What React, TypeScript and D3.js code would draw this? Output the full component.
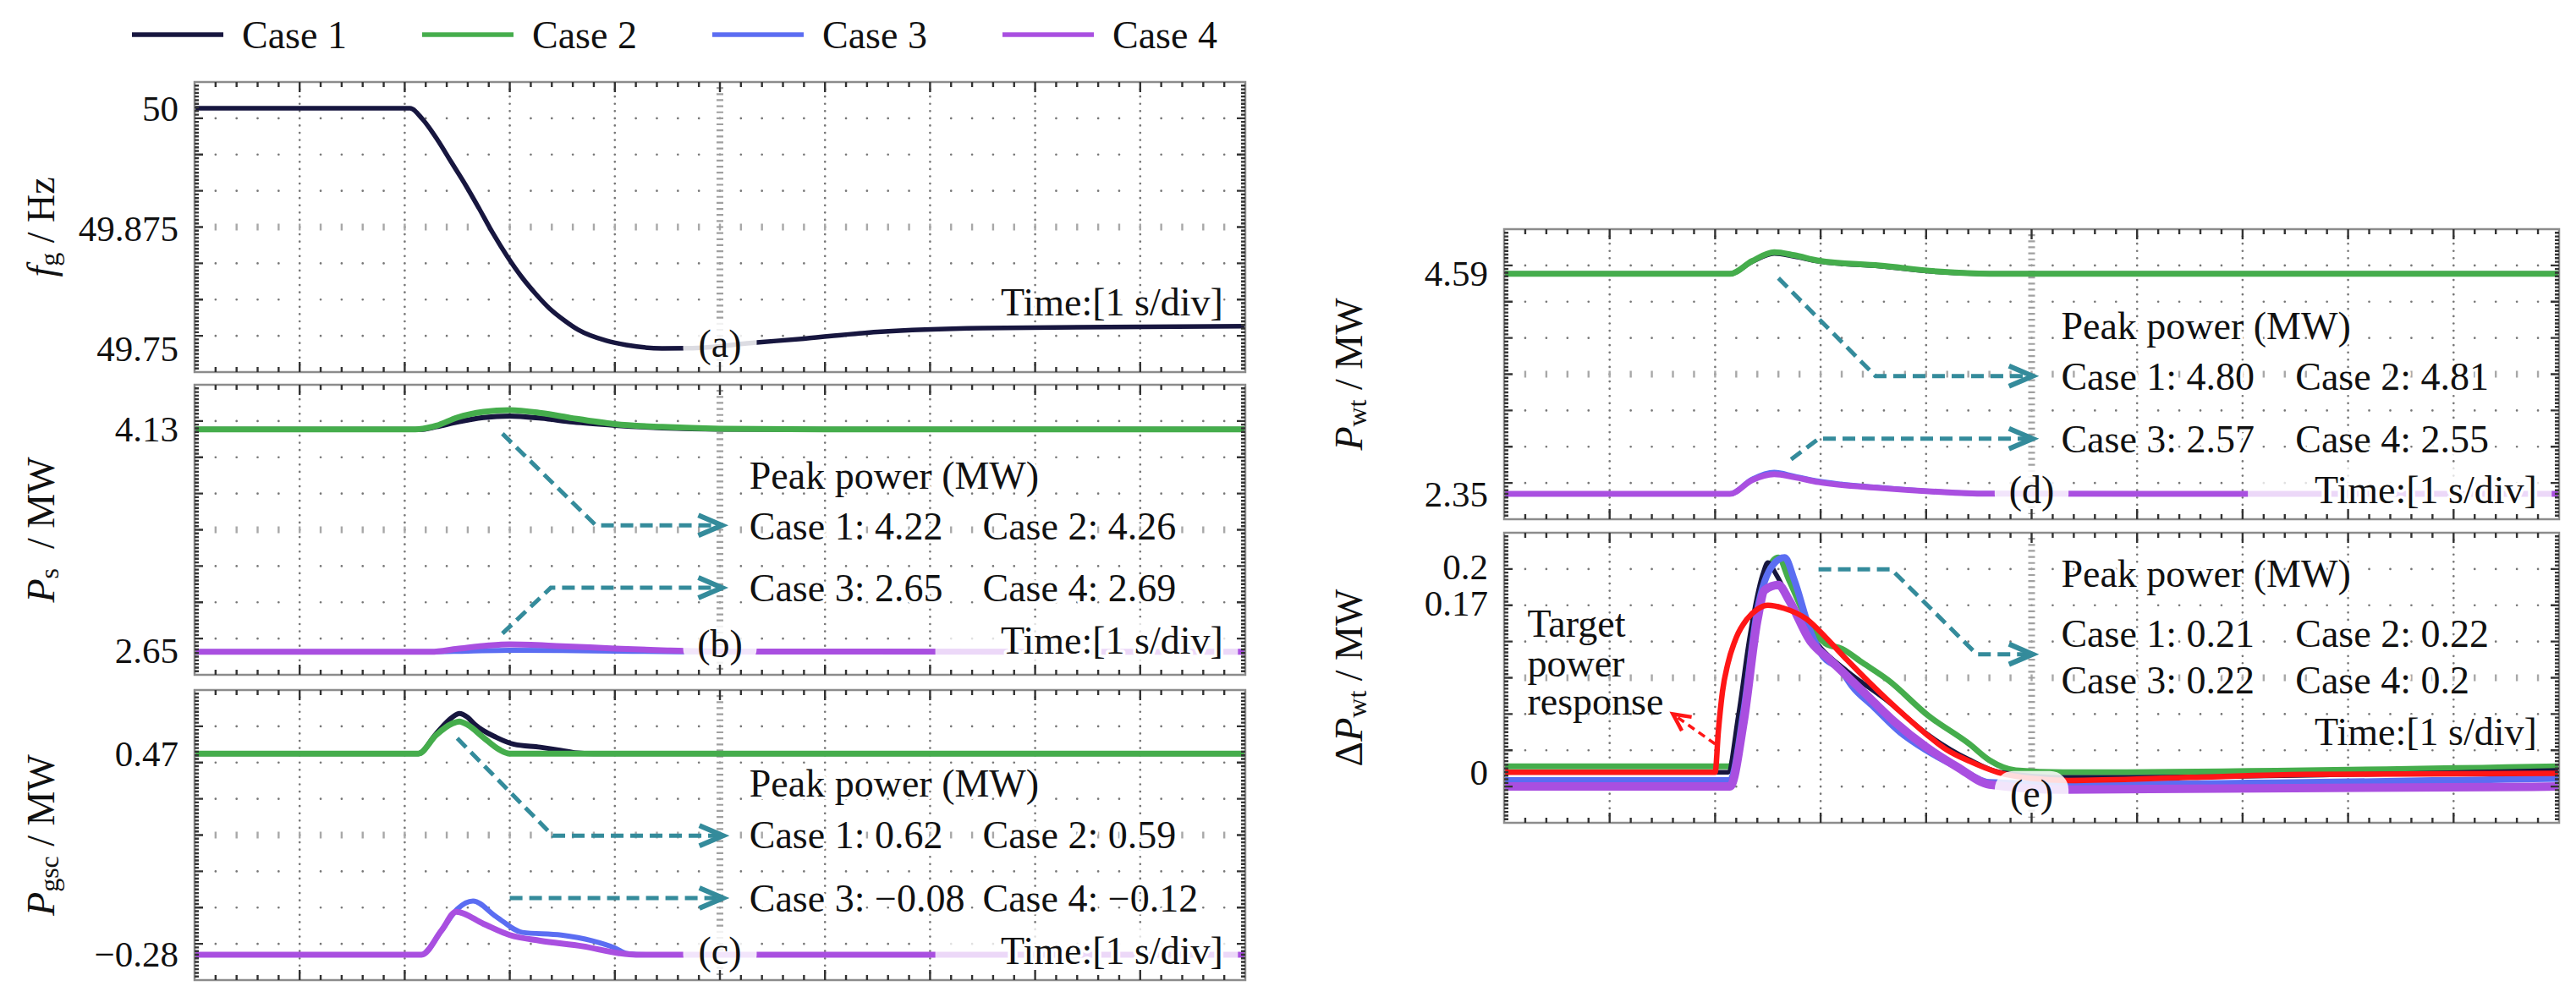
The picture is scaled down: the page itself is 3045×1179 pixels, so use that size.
import React from 'react';
import * as d3 from 'd3';

type Pt = [number, number];

const FONT = "'Liberation Serif', 'DejaVu Serif', 'Times New Roman', serif";

// legend
const caseNames = ['Case 1', 'Case 2', 'Case 3', 'Case 4'];
const caseColors = ['#17163f', '#45ad4c', '#5b6df2', '#a94fe0'];
const targetColor = '#ff1616';
const arrowColor = '#348b9b';

// time axis, 10 div at 1 s/div
const timeDomain: Pt = [0, 10];

// (a) grid frequency, Hz
const fgCase1: Pt[] = [
  [0, 50.0], [2.05, 50.0], [2.17, 49.9886], [2.31, 49.9675], [2.44, 49.9447], [2.58, 49.9202],
  [2.71, 49.8956], [2.84, 49.8702], [2.98, 49.8456], [3.11, 49.8254], [3.25, 49.807], [3.38, 49.7921],
  [3.52, 49.7798], [3.65, 49.7702], [3.92, 49.7588], [4.11, 49.7544], [4.45, 49.7509], [4.7, 49.751],
  [5.35, 49.757], [5.8, 49.761], [6.5, 49.768], [7.5, 49.772], [10, 49.774],
];
const fgTicks = [50, 49.875, 49.75];
const fgTickLabels = ['50', '49.875', '49.75'];

// (b) stator power Ps, MW
const psCase1: Pt[] = [
  [0, 4.13], [2.15, 4.13], [2.3, 4.148], [2.5, 4.18], [2.75, 4.21], [3.0, 4.22], [3.3, 4.205],
  [3.6, 4.18], [4.0, 4.158], [4.45, 4.141], [5.0, 4.132], [6, 4.13], [10, 4.13],
];
const psCase2: Pt[] = [
  [0, 4.13], [2.1, 4.13], [2.3, 4.155], [2.5, 4.21], [2.75, 4.248], [3.0, 4.26], [3.3, 4.24],
  [3.6, 4.205], [4.0, 4.166], [4.45, 4.147], [5.0, 4.135], [6, 4.13], [10, 4.13],
];
const psCase3: Pt[] = [
  [0, 2.64], [2.2, 2.64], [2.6, 2.645], [3.0, 2.65], [3.5, 2.649], [4.0, 2.645], [4.6, 2.641], [10, 2.64],
];
const psCase4: Pt[] = [
  [0, 2.64], [2.25, 2.64], [2.5, 2.66], [2.8, 2.683], [3.0, 2.69], [3.5, 2.678], [4.0, 2.662],
  [4.5, 2.649], [5.0, 2.642], [10, 2.64],
];
const psTicks = [4.13, 2.65];
const psTickLabels = ['4.13', '2.65'];
const psPeaks = ['Case 1: 4.22', 'Case 2: 4.26', 'Case 3: 2.65', 'Case 4: 2.69'];

// (c) grid-side converter power Pgsc, MW
const pgCase1: Pt[] = [
  [0, 0.47], [2.13, 0.47], [2.3, 0.545], [2.45, 0.605], [2.52, 0.62], [2.6, 0.605], [2.67, 0.578],
  [2.87, 0.531], [3.04, 0.505], [3.29, 0.494], [3.49, 0.482], [3.62, 0.473], [3.8, 0.47], [10, 0.47],
];
const pgCase2: Pt[] = [
  [0, 0.47], [2.13, 0.47], [2.3, 0.54], [2.45, 0.582], [2.52, 0.59], [2.6, 0.577], [2.75, 0.53],
  [2.9, 0.485], [3.0, 0.47], [10, 0.47],
];
const pgCase3: Pt[] = [
  [0, -0.28], [2.16, -0.28], [2.35, -0.19], [2.5, -0.11], [2.65, -0.08], [2.87, -0.138], [3.12, -0.197],
  [3.49, -0.207], [3.78, -0.228], [4.0, -0.255], [4.12, -0.276], [4.3, -0.28], [10, -0.28],
];
const pgCase4: Pt[] = [
  [0, -0.28], [2.16, -0.28], [2.35, -0.19], [2.49, -0.12], [2.75, -0.165], [3.0, -0.207], [3.29, -0.228],
  [3.7, -0.249], [4.03, -0.274], [4.2, -0.28], [10, -0.28],
];
const pgTicks = [0.47, -0.28];
const pgTickLabels = ['0.47', '\u22120.28'];
const pgPeaks = ['Case 1: 0.62', 'Case 2: 0.59', 'Case 3: \u22120.08', 'Case 4: \u22120.12'];

// (d) wind turbine power Pwt, MW
const pwCase1: Pt[] = [
  [0, 4.59], [2.14, 4.59], [2.35, 4.715], [2.56, 4.8], [2.75, 4.77], [2.98, 4.72], [3.56, 4.67],
  [4.14, 4.61], [4.6, 4.592], [10, 4.59],
];
const pwCase2: Pt[] = [
  [0, 4.59], [2.14, 4.59], [2.35, 4.72], [2.56, 4.81], [2.75, 4.78], [2.98, 4.725], [3.56, 4.675],
  [4.14, 4.612], [4.6, 4.592], [10, 4.59],
];
const pwCase3: Pt[] = [
  [0, 2.35], [2.14, 2.35], [2.35, 2.5], [2.56, 2.57], [2.75, 2.53], [2.98, 2.48], [3.56, 2.415],
  [4.14, 2.37], [4.6, 2.352], [10, 2.35],
];
const pwCase4: Pt[] = [
  [0, 2.35], [2.14, 2.35], [2.35, 2.49], [2.56, 2.55], [2.75, 2.52], [2.98, 2.47], [3.56, 2.41],
  [4.14, 2.37], [4.6, 2.352], [10, 2.35],
];
const pwTicks = [4.59, 2.35];
const pwTickLabels = ['4.59', '2.35'];
const pwPeaks = ['Case 1: 4.80', 'Case 2: 4.81', 'Case 3: 2.57', 'Case 4: 2.55'];

// (e) incremental power dPwt, MW
const dpTarget: Pt[] = [
  [0, 0], [2.0, 0], [2.03, 0.04], [2.07, 0.08], [2.12, 0.107], [2.2, 0.133], [2.3, 0.151], [2.4, 0.161],
  [2.5, 0.165], [2.65, 0.162], [2.87, 0.151], [3.05, 0.133], [3.25, 0.111], [3.45, 0.09], [3.64, 0.071],
  [3.83, 0.053], [4.02, 0.036], [4.2, 0.022], [4.41, 0.011], [4.68, 0.0], [5.0, -0.006], [5.35, -0.008],
  [6.5, -0.005], [7.6, -0.002], [10, -0.001],
];
const dpCase1: Pt[] = [
  [0, 0], [2.12, 0], [2.22, 0.056], [2.33, 0.135], [2.45, 0.195], [2.5, 0.207], [2.58, 0.195],
  [2.75, 0.16], [3.0, 0.123], [3.25, 0.1], [3.64, 0.07], [4.02, 0.037], [4.4, 0.013], [4.7, 0.0],
  [5.3, -0.005], [10, 0.002],
];
const dpCase2: Pt[] = [
  [0, 0.006], [2.14, 0.006], [2.25, 0.06], [2.38, 0.15], [2.5, 0.2], [2.6, 0.212], [2.7, 0.19],
  [2.9, 0.145], [3.05, 0.127], [3.2, 0.122], [3.4, 0.108], [3.64, 0.091], [4.02, 0.056], [4.41, 0.028],
  [4.6, 0.012], [4.85, 0.002], [5.3, 0.0], [10, 0.006],
];
const dpCase3: Pt[] = [
  [0, -0.008], [2.14, -0.008], [2.27, 0.06], [2.4, 0.16], [2.55, 0.205], [2.66, 0.212], [2.75, 0.19],
  [2.9, 0.14], [3.0, 0.118], [3.2, 0.1], [3.3, 0.085], [3.5, 0.065], [3.75, 0.04], [4.0, 0.022],
  [4.3, 0.005], [4.6, -0.01], [5.3, -0.012], [10, -0.006],
];
const dpCase4: Pt[] = [
  [0, -0.014], [2.14, -0.014], [2.27, 0.05], [2.4, 0.15], [2.47, 0.18], [2.6, 0.185], [2.7, 0.17],
  [2.9, 0.13], [3.1, 0.11], [3.4, 0.08], [3.7, 0.05], [4.0, 0.025], [4.3, 0.005], [4.6, -0.012],
  [5.3, -0.017], [10, -0.014],
];
const dpTicks = [0.2, 0.17, 0];
const dpTickLabels = ['0.2', '0.17', '0'];
const dpPeaks = ['Case 1: 0.21', 'Case 2: 0.22', 'Case 3: 0.22', 'Case 4: 0.2'];
const targetLabel = ['Target', 'power', 'response'];

type TitlePart = { t: string; it?: boolean; sub?: boolean };

interface Series { data: Pt[]; color: string; width: number }

interface PanelDef {
  id: string;
  left: number; top: number; width: number; height: number;
  domain: Pt;
  ticks: number[]; tickLabels: string[];
  title: TitlePart[]; titleX: number;
  series: Series[];
  tag: string; tagDiv: number;
  timeDiv: number; timeBox: boolean;
  peaks?: string[]; peakRows?: number[];
  callouts?: Pt[][];
}

const W = 3045;
const H = 1179;
const LEFT_X = 230;
const RIGHT_X = 1778;
const PW_L = 1242;
const PW_R = 1247;
const PH = 343;

const panels: PanelDef[] = [
  {
    id: 'a', left: LEFT_X, top: 97, width: PW_L, height: PH, domain: [49.7263, 50.0272],
    ticks: fgTicks, tickLabels: fgTickLabels,
    title: [{ t: 'f', it: true }, { t: 'g', sub: true }, { t: '\u00a0/ Hz' }], titleX: 48,
    series: [{ data: fgCase1, color: caseColors[0], width: 5.5 }],
    tag: '(a)', tagDiv: 7.23, timeDiv: 6.07, timeBox: false,
  },
  {
    id: 'b', left: LEFT_X, top: 455, width: PW_L, height: PH, domain: [2.4862, 4.4294],
    ticks: psTicks, tickLabels: psTickLabels,
    title: [{ t: 'P', it: true }, { t: 's', sub: true }, { t: '\u00a0\u00a0/ MW' }], titleX: 48,
    series: [
      { data: psCase1, color: caseColors[0], width: 6 },
      { data: psCase2, color: caseColors[1], width: 7 },
      { data: psCase3, color: caseColors[2], width: 6 },
      { data: psCase4, color: caseColors[3], width: 7 },
    ],
    tag: '(b)', tagDiv: 7.16, timeDiv: 7.05, timeBox: true,
    peaks: psPeaks, peakRows: [2.51, 3.9, 5.6],
    callouts: [
      [[2.93, 1.35], [3.82, 3.88], [5.02, 3.88]],
      [[2.93, 6.86], [3.39, 5.6], [5.02, 5.6]],
    ],
  },
  {
    id: 'c', left: LEFT_X, top: 816, width: PW_L, height: PH, domain: [-0.3749, 0.7073],
    ticks: pgTicks, tickLabels: pgTickLabels,
    title: [{ t: 'P', it: true }, { t: 'gsc', sub: true }, { t: '\u00a0/ MW' }], titleX: 48,
    series: [
      { data: pgCase1, color: caseColors[0], width: 6 },
      { data: pgCase2, color: caseColors[1], width: 7 },
      { data: pgCase3, color: caseColors[2], width: 6 },
      { data: pgCase4, color: caseColors[3], width: 7 },
    ],
    tag: '(c)', tagDiv: 7.19, timeDiv: 7.2, timeBox: true,
    peaks: pgPeaks, peakRows: [2.57, 4.0, 5.75],
    callouts: [
      [[2.5, 1.33], [3.41, 4.02], [5.03, 4.02]],
      [[3.0, 5.74], [5.03, 5.74]],
    ],
  },
  {
    id: 'd', left: RIGHT_X, top: 271, width: PW_R, height: PH, domain: [2.0925, 5.045],
    ticks: pwTicks, tickLabels: pwTickLabels,
    title: [{ t: 'P', it: true }, { t: 'wt', sub: true }, { t: '\u00a0/ MW' }], titleX: 1594,
    series: [
      { data: pwCase1, color: caseColors[0], width: 6 },
      { data: pwCase2, color: caseColors[1], width: 7 },
      { data: pwCase3, color: caseColors[2], width: 6 },
      { data: pwCase4, color: caseColors[3], width: 7 },
    ],
    tag: '(d)', tagDiv: 7.2, timeDiv: 7.2, timeBox: true,
    peaks: pwPeaks, peakRows: [2.67, 4.07, 5.8],
    callouts: [
      [[2.6, 1.35], [3.52, 4.05], [5.01, 4.05]],
      [[2.72, 6.35], [2.98, 5.78], [5.01, 5.78]],
    ],
  },
  {
    id: 'e', left: RIGHT_X, top: 630, width: PW_R, height: PH, domain: [-0.0498, 0.2365],
    ticks: dpTicks, tickLabels: dpTickLabels,
    title: [{ t: '\u0394' }, { t: 'P', it: true }, { t: 'wt', sub: true }, { t: '\u00a0/ MW' }], titleX: 1594,
    series: [
      { data: dpCase2, color: caseColors[1], width: 7 },
      { data: dpCase1, color: caseColors[0], width: 5.5 },
      { data: dpCase3, color: caseColors[2], width: 8 },
      { data: dpCase4, color: caseColors[3], width: 10 },
      { data: dpTarget, color: targetColor, width: 6.5 },
    ],
    tag: '(e)', tagDiv: 7.2, timeDiv: 5.5, timeBox: false,
    peaks: dpPeaks, peakRows: [1.12, 2.79, 4.07],
    callouts: [
      [[2.98, 1.01], [3.67, 1.01], [4.48, 3.35], [5.01, 3.35]],
    ],
  },
];

const FS = 46;
const TICK_FS = 43;

const Title: React.FC<{ parts: TitlePart[]; x: number; y: number }> = ({ parts, x, y }) => {
  const spans: React.ReactNode[] = [];
  let shifted = false;
  parts.forEach((p, i) => {
    let dy = 0;
    if (p.sub && !shifted) { dy = 10; shifted = true; }
    else if (!p.sub && shifted) { dy = -10; shifted = false; }
    spans.push(
      <tspan key={i} dy={dy || undefined} fontStyle={p.it ? 'italic' : 'normal'} fontSize={p.sub ? 32 : FS}>
        {p.t}
      </tspan>
    );
  });
  return (
    <text x={x} y={y} transform={`rotate(-90, ${x}, ${y})`} textAnchor="middle"
      dominantBaseline="central" fontFamily={FONT} fontSize={FS} fill="#111">
      {spans}
    </text>
  );
};

// dashed leader with an open chevron head
const Arrow: React.FC<{ pts: Pt[]; color: string; width?: number; dash?: string; head?: number; half?: number }> = ({
  pts, color, width = 5, dash = '15 8', head = 28, half = 12,
}) => {
  const n = pts.length;
  const [tx, ty] = pts[n - 1];
  const [px, py] = pts[n - 2];
  const ang = Math.atan2(ty - py, tx - px);
  const wing = (s: number) => [
    tx - head * Math.cos(ang) + s * half * Math.sin(ang),
    ty - head * Math.sin(ang) - s * half * Math.cos(ang),
  ];
  const [ax, ay] = wing(1);
  const [bx, by] = wing(-1);
  const body = d3.line()(pts.slice(0, n - 1).concat([[tx - 6 * Math.cos(ang), ty - 6 * Math.sin(ang)]])) || '';
  return (
    <g>
      <path d={body} fill="none" stroke={color} strokeWidth={width} strokeDasharray={dash} />
      <path d={`M${ax},${ay} L${tx},${ty} L${bx},${by}`} fill="none" stroke={color}
        strokeWidth={width + 1} strokeLinejoin="miter" strokeLinecap="butt" />
    </g>
  );
};

const Panel: React.FC<{ p: PanelDef }> = ({ p }) => {
  const x = d3.scaleLinear().domain(timeDomain).range([p.left, p.left + p.width]);
  const y = d3.scaleLinear().domain(p.domain).range([p.top + p.height, p.top]);
  const yd = d3.scaleLinear().domain([0, 8]).range([p.top, p.top + p.height]);
  const line = d3.line<Pt>().x(d => x(d[0])).y(d => y(d[1])).curve(d3.curveMonotoneX);
  const right = p.left + p.width;
  const bottom = p.top + p.height;

  const xMinor = d3.range(1, 50).map(k => p.left + (k * p.width) / 50);
  const yMinor = d3.range(1, 40).map(k => p.top + (k * p.height) / 40);

  // dotted grid
  let dots = '';
  [1, 2, 3, 4, 6, 7, 8, 9].forEach(i => {
    const gx = x(i);
    yMinor.forEach(gy => { dots += `M${gx},${gy}h0.01`; });
  });
  [1, 2, 3, 5, 6, 7].forEach(j => {
    const gy = yd(j);
    xMinor.forEach(gx => { dots += `M${gx},${gy}h0.01`; });
  });
  // centre cross marks
  let centre = '';
  xMinor.forEach(gx => { centre += `M${gx},${yd(4) - 4}v8`; });
  let centreV = '';
  d3.range(1, 48).forEach(k => {
    const gy = p.top + (k * p.height) / 48;
    centreV += `M${x(5) - 4},${gy}h8`;
  });
  // border ticks
  let ticks = '';
  d3.range(1, 50).forEach(k => {
    const gx = p.left + (k * p.width) / 50;
    const len = k % 5 === 0 ? 12 : 6;
    ticks += `M${gx},${p.top}v${len}M${gx},${bottom}v${-len}`;
  });
  d3.range(1, 80).forEach(k => {
    const gy = p.top + (k * p.height) / 80;
    const len = k % 10 === 0 ? 10 : 5;
    ticks += `M${p.left},${gy}h${len}M${right},${gy}h${-len}`;
  });

  const boxH = 54;
  const halo = { stroke: '#fff', strokeWidth: 7, paintOrder: 'stroke' as const, strokeLinejoin: 'round' as const };
  const col1 = x(5.28);
  const col2 = x(7.5);

  return (
    <g>
      <clipPath id={`clip-${p.id}`}>
        <rect x={p.left} y={p.top} width={p.width} height={p.height} />
      </clipPath>
      <path d={dots} stroke="#777" strokeWidth={2.7} strokeLinecap="round" fill="none" />
      <path d={centre} stroke="#a8a8a8" strokeWidth={2.4} fill="none" />
      <path d={centreV} stroke="#a0a0a0" strokeWidth={2.2} fill="none" />

      {p.callouts && p.callouts.map((c, i) => (
        <Arrow key={i} pts={c.map(q => [x(q[0]), yd(q[1])] as Pt)} color={arrowColor} />
      ))}

      <g clipPath={`url(#clip-${p.id})`}>
        {p.series.map((s, i) => (
          <path key={i} d={line(s.data) || ''} fill="none" stroke={s.color} strokeWidth={s.width}
            strokeLinejoin="round" strokeLinecap="round" />
        ))}
      </g>

      {/* label boxes */}
      <rect x={x(4.65)} y={yd(p.tagDiv) - boxH / 2} width={x(5.35) - x(4.65)} height={boxH} rx={22}
        fill="#fff" fillOpacity={0.85} />
      {p.timeBox && (
        <rect x={x(7.05)} y={yd(p.timeDiv) - boxH / 2} width={x(9.93) - x(7.05)} height={boxH}
          fill="#fff" fillOpacity={0.78} />
      )}

      <g fontFamily={FONT} fontSize={FS} fill="#111" dominantBaseline="central">
        <text x={x(5)} y={yd(p.tagDiv)} textAnchor="middle">{p.tag}</text>
        <text x={x(9.79)} y={yd(p.timeDiv)} textAnchor="end" {...halo}>Time:[1 s/div]</text>
        {p.peaks && p.peakRows && (
          <>
            <text x={col1} y={yd(p.peakRows[0])} {...halo}>Peak power (MW)</text>
            <text x={col1} y={yd(p.peakRows[1])} {...halo}>{p.peaks[0]}</text>
            <text x={col2} y={yd(p.peakRows[1])} {...halo}>{p.peaks[1]}</text>
            <text x={col1} y={yd(p.peakRows[2])} {...halo}>{p.peaks[2]}</text>
            <text x={col2} y={yd(p.peakRows[2])} {...halo}>{p.peaks[3]}</text>
          </>
        )}
      </g>

      <rect x={p.left} y={p.top} width={p.width} height={p.height} fill="none" stroke="#8c8c8c" strokeWidth={2.5} />
      <path d={ticks} stroke="#333" strokeWidth={2.4} fill="none" />

      <g fontFamily={FONT} fontSize={TICK_FS} fill="#111" textAnchor="end" dominantBaseline="central">
        {p.ticks.map((t, i) => (
          <text key={i} x={p.left - 19} y={y(t) + (p.id === 'e' && i === 0 ? -3 : p.id === 'e' && i === 1 ? 4 : 0)}>
            {p.tickLabels[i]}
          </text>
        ))}
      </g>

      <Title parts={p.title} x={p.titleX} y={p.top + p.height / 2} />

      {p.id === 'e' && (
        <g>
          <g fontFamily={FONT} fontSize={FS} fill="#111" dominantBaseline="central">
            {targetLabel.map((s, i) => (
              <text key={i} x={x(0.22)} y={yd([2.5, 3.6, 4.65][i])}>{s}</text>
            ))}
          </g>
          <Arrow pts={[[x(2.0), y(0.028)], [x(1.6), y(0.0575)]]} color={targetColor} width={3.5}
            dash="9 6" head={20} half={10} />
        </g>
      )}
    </g>
  );
};

const Legend: React.FC = () => {
  const x0 = 156;
  const step = 343;
  const yy = 41;
  return (
    <g fontFamily={FONT} fontSize={FS} fill="#111" dominantBaseline="central">
      {caseNames.map((n, i) => (
        <g key={n}>
          <line x1={x0 + i * step} x2={x0 + i * step + 108} y1={yy} y2={yy} stroke={caseColors[i]} strokeWidth={5.5} />
          <text x={x0 + i * step + 130} y={yy}>{n}</text>
        </g>
      ))}
    </g>
  );
};

export default function App() {
  return (
    <div style={{ position: 'absolute', left: 0, top: 0, background: '#fff' }}>
      <svg width={W} height={H} viewBox={`0 0 ${W} ${H}`} style={{ display: 'block' }}>
        <rect width={W} height={H} fill="#fff" />
        <Legend />
        {panels.map(p => <Panel key={p.id} p={p} />)}
      </svg>
    </div>
  );
}
